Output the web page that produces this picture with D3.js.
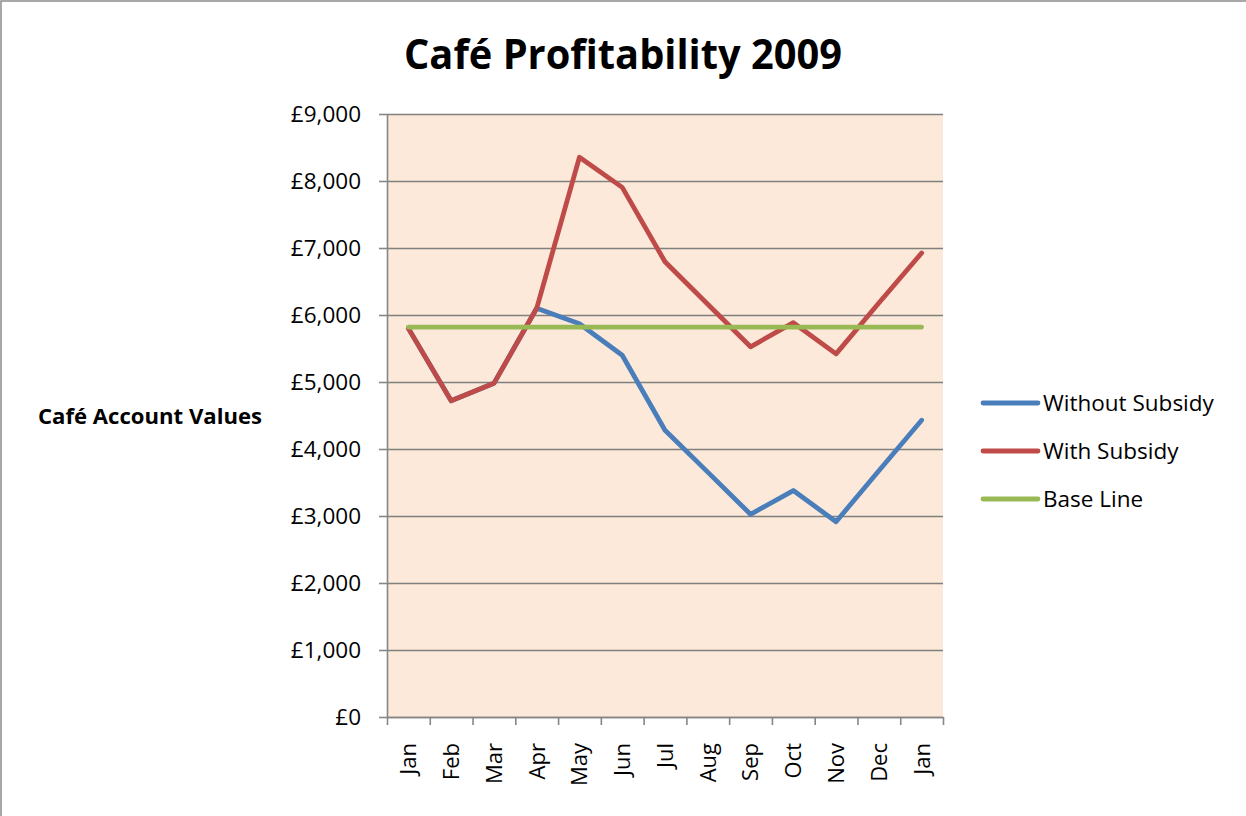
<!DOCTYPE html>
<html>
<head>
<meta charset="utf-8">
<script src="https://cdn.jsdelivr.net/npm/d3@7"></script>
<style>
  html, body { margin: 0; padding: 0; background: #fff; }
  svg { display: block; font-family: "Open Sans", "Noto Sans", sans-serif; }
</style>
</head>
<body>
<div id="chart"></div>
<script>
// Café Profitability 2009 — three monthly lines
const months = ["Jan", "Feb", "Mar", "Apr", "May", "Jun", "Jul", "Aug", "Sep", "Oct", "Nov", "Dec", "Jan"];
const withoutSubsidy = [5800, 4720, 4980, 6100, 5870, 5400, 4280, 3655, 3025, 3380, 2915, 3675, 4430];
const withSubsidy    = [5800, 4720, 4980, 6100, 8355, 7905, 6795, 6160, 5525, 5885, 5420, 6180, 6925];
const baseLine       = [5820, 5820, 5820, 5820, 5820, 5820, 5820, 5820, 5820, 5820, 5820, 5820, 5820];
const yTicks = [0, 1000, 2000, 3000, 4000, 5000, 6000, 7000, 8000, 9000];

const seriesNames  = ["Without Subsidy", "With Subsidy", "Base Line"];
const seriesColors = ["#4A7EBB", "#BE4B48", "#98B954"];
const seriesData   = [withoutSubsidy, withSubsidy, baseLine];

const width = 1246, height = 816;
const plot = { left: 387, right: 943, top: 114, bottom: 717 };

const svg = d3.select("#chart").append("svg")
  .attr("width", width)
  .attr("height", height);

// outer chart border (only top/left visible in the crop)
svg.append("rect")
  .attr("x", 1).attr("y", 1)
  .attr("width", width + 20).attr("height", height + 20)
  .attr("fill", "#fff")
  .attr("stroke", "#8a8a8a")
  .attr("stroke-width", 1.5);

// scales: categories on a linear index so ticks sit between months
const x = d3.scaleLinear().domain([0, months.length]).range([plot.left, plot.right]);
const y = d3.scaleLinear().domain([0, 9000]).range([plot.bottom, plot.top]);

// plot background
svg.append("rect")
  .attr("x", plot.left).attr("y", plot.top)
  .attr("width", plot.right - plot.left)
  .attr("height", plot.bottom - plot.top)
  .attr("fill", "#FDE9D9");

// horizontal grid
svg.append("g")
  .attr("transform", `translate(${plot.left},0)`)
  .call(d3.axisLeft(y).tickValues(yTicks).tickSize(-(plot.right - plot.left)).tickFormat(""))
  .call(g => g.select(".domain").remove())
  .selectAll("line")
  .attr("stroke", "#808080")
  .attr("stroke-width", 1.6);

// y axis
const fmt = d => "£" + d3.format(",")(d);
svg.append("g")
  .attr("class", "axis-y")
  .attr("transform", `translate(${plot.left},0)`)
  .call(d3.axisLeft(y).tickValues(yTicks).tickSize(8).tickSizeOuter(0).tickPadding(18).tickFormat(fmt))
  .call(g => g.select(".domain").attr("stroke", "#868686").attr("stroke-width", 1.6))
  .call(g => g.selectAll("line").attr("stroke", "#868686").attr("stroke-width", 1.6))
  .call(g => g.selectAll("text")
    .attr("font-family", "'Open Sans', sans-serif")
    .attr("font-size", 22.5)
    .attr("fill", "#000"));

// x axis: ticks at category boundaries
svg.append("g")
  .attr("class", "axis-x")
  .attr("transform", `translate(0,${plot.bottom})`)
  .call(d3.axisBottom(x).tickValues(d3.range(months.length + 1)).tickSize(8).tickSizeOuter(0).tickFormat(""))
  .call(g => g.select(".domain").attr("stroke", "#868686").attr("stroke-width", 1.6))
  .call(g => g.selectAll("line").attr("stroke", "#868686").attr("stroke-width", 1.6));

svg.append("g")
  .selectAll("text")
  .data(months)
  .join("text")
  .attr("transform", (d, i) => `translate(${x(i + 0.5)},743) rotate(-90)`)
  .attr("dy", "0.36em")
  .attr("text-anchor", "end")
  .attr("font-size", 22)
  .attr("fill", "#000")
  .text(d => d);

// lines
const line = d3.line()
  .x((d, i) => x(i + 0.5))
  .y(d => y(d));

svg.append("g")
  .selectAll("path")
  .data(seriesData)
  .join("path")
  .attr("d", d => line(d))
  .attr("fill", "none")
  .attr("stroke", (d, i) => seriesColors[i])
  .attr("stroke-width", 4.8)
  .attr("stroke-linejoin", "round")
  .attr("stroke-linecap", "round");

// title
svg.append("text")
  .attr("x", 623).attr("y", 69)
  .attr("text-anchor", "middle")
  .attr("font-size", 42)
  .attr("font-weight", 700)
  .attr("textLength", 438)
  .attr("lengthAdjust", "spacingAndGlyphs")
  .text("Café Profitability 2009");

// y axis title
svg.append("text")
  .attr("x", 38).attr("y", 424)
  .attr("font-size", 22)
  .attr("font-weight", 700)
  .attr("textLength", 224)
  .attr("lengthAdjust", "spacingAndGlyphs")
  .text("Café Account Values");

// legend
const legend = svg.append("g")
  .selectAll("g")
  .data(seriesNames)
  .join("g")
  .attr("transform", (d, i) => `translate(983,${403 + i * 48})`);

legend.append("line")
  .attr("x1", 0).attr("x2", 55)
  .attr("stroke", (d, i) => seriesColors[i])
  .attr("stroke-width", 4.8)
  .attr("stroke-linecap", "round");

legend.append("text")
  .attr("x", 60)
  .attr("dy", "0.36em")
  .attr("font-size", 22.5)
  .attr("fill", "#000")
  .text(d => d);
</script>
</body>
</html>
